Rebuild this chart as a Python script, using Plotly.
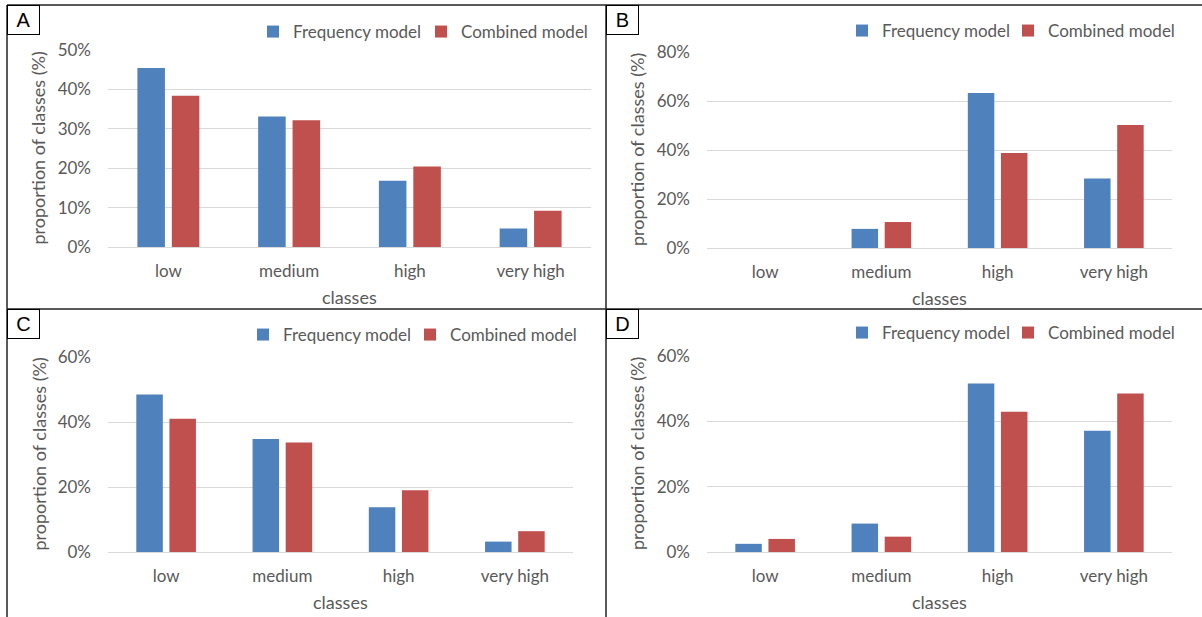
import plotly.graph_objects as go

W, H = 1202, 617

categories = ["low", "medium", "high", "very high"]
series_names = ["Frequency model", "Combined model"]
colors = ["#4f81bd", "#c0504d"]

freq_A = [45.4, 33.1, 16.8, 4.7]
comb_A = [38.4, 32.2, 20.4, 9.2]
freq_B = [0.0, 7.8, 63.3, 28.4]
comb_B = [0.0, 10.6, 38.8, 50.2]
freq_C = [48.5, 34.8, 13.8, 3.2]
comb_C = [41.0, 33.7, 19.0, 6.4]
freq_D = [2.5, 8.7, 51.6, 37.1]
comb_D = [4.0, 4.7, 42.9, 48.5]

panel_labels = ["A", "B", "C", "D"]
y_max = [50, 80, 60, 60]
y_dtick = [10, 20, 20, 20]

# pixel layout for each panel: plot area (x0, x1, ytop, ybottom)
areas = [
    (108, 591, 50, 247),
    (707, 1172, 52, 248),
    (108, 573, 357, 552),
    (707, 1172, 356, 552),
]
legend_x = [253, 842, 243, 842]
legend_y = [32, 31, 335, 333]
legend_entry = [123, 121, 122, 121]
label_box = [(7, 5), (606, 5), (7, 309), (606, 309)]

data = [(freq_A, comb_A), (freq_B, comb_B), (freq_C, comb_C), (freq_D, comb_D)]

FONT = "Lato, 'Open Sans', sans-serif"
TXT = "#595959"

def px(x):
    return x / W

def py(y):
    return 1 - y / H

fig = go.Figure()
layout = dict(
    width=W, height=H, margin=dict(l=0, r=0, t=0, b=0, pad=0, autoexpand=False),
    paper_bgcolor="white", plot_bgcolor="white",
    barmode="group", bargap=0.43, bargroupgap=0.2,
    font=dict(family=FONT, color=TXT, size=17),
    showlegend=True,
)
annotations = []
shapes = []

for i, (fvals, cvals) in enumerate(data):
    n = "" if i == 0 else str(i + 1)
    xa, ya = "x" + n, "y" + n
    lg = "legend" + n
    for s, vals in enumerate((fvals, cvals)):
        fig.add_trace(go.Bar(
            x=categories, y=vals, name=series_names[s],
            marker=dict(color=colors[s], line=dict(width=0)),
            xaxis=xa, yaxis=ya, legend=lg, showlegend=True,
        ))
    x0, x1, yt, yb = areas[i]
    layout["xaxis" + n] = dict(
        domain=[px(x0), px(x1)], anchor=ya, showgrid=False,
        showline=False, zeroline=False, ticks="",
        tickfont=dict(size=17, color=TXT, family=FONT), ticklabelstandoff=12,
        fixedrange=True, automargin=False,
    )
    layout["yaxis" + n] = dict(
        domain=[py(yb), py(yt)], anchor=xa, range=[0, y_max[i]],
        dtick=y_dtick[i], ticksuffix="%", showgrid=True,
        gridcolor="#d9d9d9", gridwidth=1, zeroline=True,
        zerolinecolor="#d9d9d9", zerolinewidth=1, showline=False, ticks="",
        tickfont=dict(size=17, color=TXT, family=FONT), ticklabelstandoff=16,
        fixedrange=True, automargin=False,
    )
    layout[lg] = dict(
        orientation="h", x=px(legend_x[i]), y=py(legend_y[i]),
        xanchor="left", yanchor="middle", bgcolor="rgba(0,0,0,0)",
        font=dict(size=17, color=TXT, family=FONT),
        itemwidth=30, tracegroupgap=0, traceorder="normal",
        entrywidth=legend_entry[i], entrywidthmode="pixels",
    )
    # axis titles
    annotations.append(dict(
        text="proportion of classes (%)", textangle=-90,
        x=px(x0 - 70), y=py((yt + yb) / 2), xref="paper", yref="paper",
        showarrow=False, font=dict(size=18, color=TXT, family=FONT),
        xanchor="center", yanchor="middle",
    ))
    annotations.append(dict(
        text="classes", x=px((x0 + x1) / 2), y=py(yb + 50),
        xref="paper", yref="paper", showarrow=False,
        font=dict(size=18, color=TXT, family=FONT),
        xanchor="center", yanchor="middle",
    ))
    # panel label boxes
    lx, ly = label_box[i]
    annotations.append(dict(
        text=panel_labels[i], x=px(lx), y=py(ly), xref="paper", yref="paper",
        showarrow=False, xanchor="left", yanchor="top", align="center",
        width=31, height=28, borderpad=0, bordercolor="#000000", borderwidth=1,
        bgcolor="white", font=dict(size=20, color="#000000", family="Liberation Sans, Arial"),
    ))

# panel frames
line_gray = dict(color="#5a5a5a", width=2)
line_dark = dict(color="#222222", width=1.5)
shapes.append(dict(type="line", xref="paper", yref="paper", x0=px(7), x1=1, y0=py(5), y1=py(5), line=line_gray))
shapes.append(dict(type="line", xref="paper", yref="paper", x0=px(7), x1=px(7), y0=py(5), y1=0, line=line_gray))
shapes.append(dict(type="line", xref="paper", yref="paper", x0=px(606), x1=px(606), y0=py(5), y1=0, line=line_dark))
shapes.append(dict(type="line", xref="paper", yref="paper", x0=px(7), x1=1, y0=py(309), y1=py(309), line=line_dark))

layout["annotations"] = annotations
layout["shapes"] = shapes
fig.update_layout(**layout)
fig.write_html("out.html")
